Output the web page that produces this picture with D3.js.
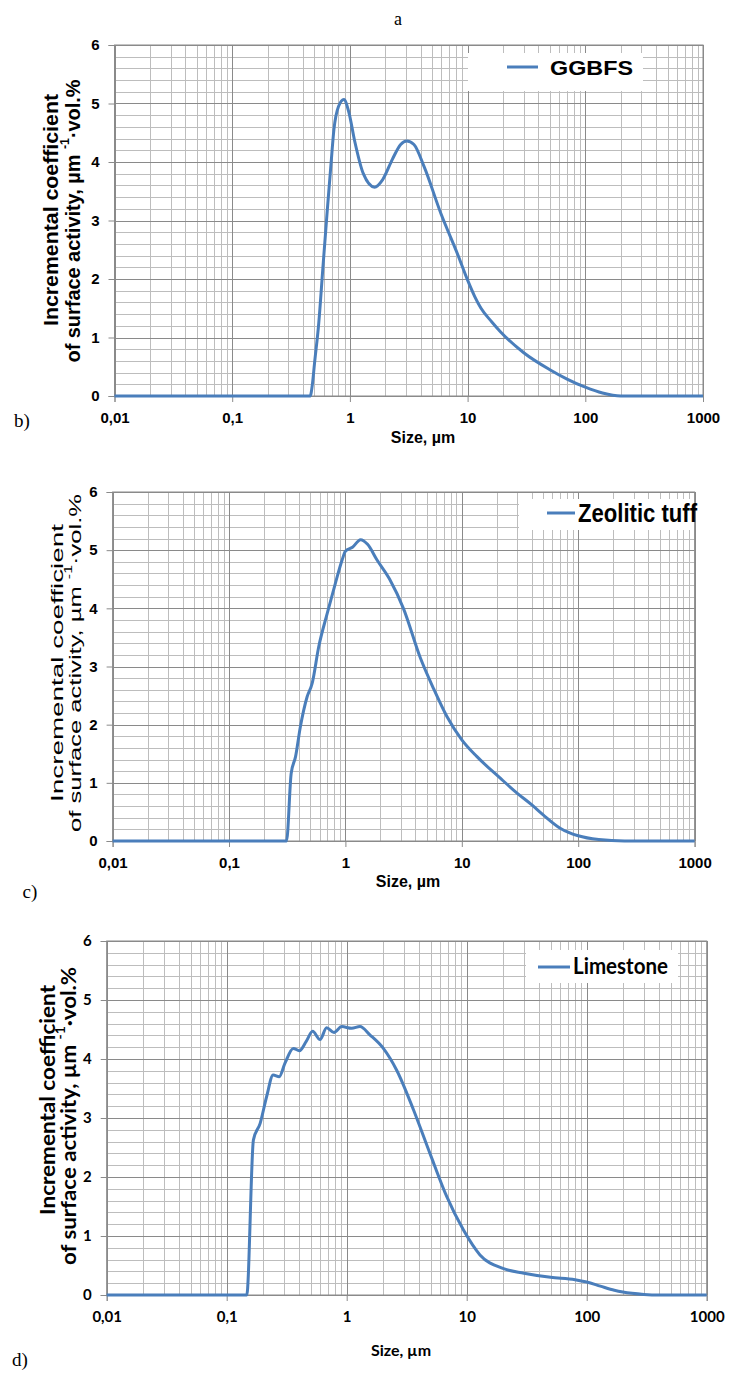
<!DOCTYPE html>
<html><head><meta charset="utf-8">
<script src="https://cdn.jsdelivr.net/npm/d3@7"></script>
<style>body{margin:0;background:#fff}svg{display:block}</style>
</head><body>
<svg id="c" width="730" height="1373"></svg>
<script>
// ---- data ----
const sizeTicks = [0.01, 0.1, 1, 10, 100, 1000];
const sizeTickLabels = ["0,01", "0,1", "1", "10", "100", "1000"];
const valueTicks = [0, 1, 2, 3, 4, 5, 6];
const seriesNames = ["GGBFS", "Zeolitic tuff", "Limestone"];
const panelLetters = ["b)", "c)", "d)"];
const topLetter = "a";
const xTitle = "Size, µm";
const yTitle1 = "Incremental coefficient";
const yTitle2a = "of surface activity, µm ";
const yTitle2sup = "-1";
const yTitle2b = "·vol.%";

const ggbfsSize  = [0.01, 0.46, 0.48, 0.5, 0.544, 0.59, 0.641, 0.69, 0.731, 0.8, 0.889, 0.98, 1.1, 1.3, 1.62, 1.9, 2.3, 2.7, 3.04, 3.5, 4.27, 5.93, 8.24, 10, 11.5, 13, 16, 19, 30, 50, 70, 100, 140, 200, 1000];
const ggbfsValue = [0, 0, 0.2, 0.55, 1.25, 2.2, 3.15, 3.95, 4.55, 4.95, 5.07, 4.85, 4.35, 3.8, 3.57, 3.7, 4.05, 4.3, 4.36, 4.3, 3.92, 3.12, 2.42, 1.98, 1.7, 1.5, 1.27, 1.1, 0.74, 0.45, 0.29, 0.15, 0.05, 0, 0];

const zeoliteSize  = [0.01, 0.305, 0.312, 0.342, 0.373, 0.41, 0.469, 0.518, 0.59, 0.697, 0.82, 0.937, 1.0, 1.15, 1.35, 1.55, 1.87, 2.4, 3.15, 4.4, 5.72, 7.45, 10, 13.5, 21.4, 30, 40, 50, 70, 100, 150, 250, 1000];
const zeoliteValue = [0, 0, 0, 1.16, 1.45, 1.96, 2.48, 2.71, 3.34, 3.91, 4.43, 4.83, 4.98, 5.05, 5.18, 5.1, 4.83, 4.5, 4.0, 3.15, 2.62, 2.14, 1.74, 1.45, 1.08, 0.82, 0.62, 0.45, 0.22, 0.09, 0.025, 0, 0];

const limestoneSize  = [0.01, 0.145, 0.147, 0.167, 0.19, 0.215, 0.244, 0.274, 0.306, 0.359, 0.403, 0.46, 0.52, 0.6, 0.68, 0.784, 0.91, 1.1, 1.29, 1.56, 2.02, 2.61, 3.6, 4.94, 6.81, 9.4, 12.9, 20, 30, 50, 80, 100, 130, 170, 200, 300, 400, 1000];
const limestoneValue = [0, 0, 0, 2.63, 2.91, 3.36, 3.73, 3.70, 3.93, 4.18, 4.14, 4.3, 4.47, 4.33, 4.53, 4.45, 4.55, 4.52, 4.55, 4.41, 4.18, 3.81, 3.14, 2.40, 1.67, 1.10, 0.68, 0.45, 0.37, 0.3, 0.26, 0.22, 0.15, 0.08, 0.05, 0.01, 0, 0];

// ---- layout (positions / styles) ----
const seriesData = [
  [ggbfsSize, ggbfsValue],
  [zeoliteSize, zeoliteValue],
  [limestoneSize, limestoneValue]
];
const layout = [
  { x0: 114.5, x1: 703, y0: 45, y1: 396, font: "'Liberation Sans', Arial, sans-serif", tickFs: 15,
    yT: { x1: 50, x2: 72, cy1: 210, cy2: 221, l1: 232, l2: 283, fs: 20.5, w: "bold" },
    letter: { x: 22, y: 427 }, xTitle: { x: 423, y: 443 },
    leg: { bx: 468, by: 53, bw: 175, bh: 38, lx1: 507, lx2: 538, ly: 67, tx: 550, ty: 75, fs: 21, tl: 83, font: "'Liberation Sans', Arial, sans-serif" } },
  { x0: 112.6, x1: 694.6, y0: 492, y1: 841, font: "'Liberation Sans', Arial, sans-serif", tickFs: 15,
    yT: { x1: 57, x2: 75, cy1: 663, cy2: 663, l1: 278, l2: 338, fs: 17, w: "normal" },
    letter: { x: 30, y: 898 }, xTitle: { x: 408, y: 887 },
    leg: { bx: 519, by: 499, bw: 176, bh: 31, lx1: 547, lx2: 575, ly: 513, tx: 578, ty: 522, fs: 25, tl: 119, font: "'Liberation Sans Narrow', 'Arial Narrow', 'Liberation Sans', Arial, sans-serif" } },
  { x0: 106.7, x1: 706.7, y0: 941, y1: 1295, font: "Lato, 'Open Sans', sans-serif", tickFs: 15,
    yT: { x1: 47, x2: 68, cy1: 1100, cy2: 1116, l1: 230, l2: 298, fs: 20.5, w: "bold" },
    letter: { x: 20, y: 1366 }, xTitle: { x: 401, y: 1356 },
    leg: { bx: 526, by: 950, bw: 152, bh: 33, lx1: 538, lx2: 570, ly: 967, tx: 573, ty: 974, fs: 22, tl: 95, font: "Lato, 'Open Sans', sans-serif" } }
];

const svg = d3.select("#c");
svg.append("rect").attr("width", 730).attr("height", 1373).attr("fill", "#fff");

svg.append("text").attr("x", 398).attr("y", 25).attr("text-anchor", "middle")
  .attr("font-family", "'Liberation Serif', 'Times New Roman', serif").attr("font-size", 18)
  .text(topLetter);

const lineColor = "#4a7ebb";
const minorColor = "#bdbdbd";
const majorColor = "#8a8a8a";

layout.forEach((L, i) => {
  const g = svg.append("g");
  const x = d3.scaleLog().domain([sizeTicks[0], sizeTicks[sizeTicks.length - 1]]).range([L.x0, L.x1]);
  const y = d3.scaleLinear().domain([0, 6]).range([L.y1, L.y0]);

  // minor vertical grid
  const minorX = [];
  sizeTicks.slice(0, -1).forEach(d => { for (let k = 2; k <= 9; k++) minorX.push(d * k); });
  g.append("g").selectAll("line").data(minorX).join("line")
    .attr("x1", d => Math.round(x(d)) + 0.5).attr("x2", d => Math.round(x(d)) + 0.5)
    .attr("y1", L.y0).attr("y2", L.y1).attr("stroke", minorColor).attr("stroke-width", 1);
  // minor horizontal grid
  const minorY = d3.range(0, 30).map(k => k * 0.2).filter(v => Math.abs(v - Math.round(v)) > 1e-6);
  g.append("g").selectAll("line").data(minorY).join("line")
    .attr("x1", L.x0).attr("x2", L.x1)
    .attr("y1", d => Math.round(y(d)) + 0.5).attr("y2", d => Math.round(y(d)) + 0.5)
    .attr("stroke", minorColor).attr("stroke-width", 1);
  // major grid
  g.append("g").selectAll("line").data(sizeTicks).join("line")
    .attr("x1", d => Math.round(x(d)) + 0.5).attr("x2", d => Math.round(x(d)) + 0.5)
    .attr("y1", L.y0).attr("y2", L.y1).attr("stroke", majorColor).attr("stroke-width", 1);
  g.append("g").selectAll("line").data(valueTicks).join("line")
    .attr("x1", L.x0).attr("x2", L.x1)
    .attr("y1", d => Math.round(y(d)) + 0.5).attr("y2", d => Math.round(y(d)) + 0.5)
    .attr("stroke", majorColor).attr("stroke-width", 1);

  // legend box (white, covers grid)
  const lg = L.leg;
  g.append("rect").attr("x", lg.bx).attr("y", lg.by).attr("width", lg.bw).attr("height", lg.bh).attr("fill", "#fff");

  // frame
  g.append("rect").attr("x", L.x0).attr("y", L.y0).attr("width", L.x1 - L.x0).attr("height", L.y1 - L.y0)
    .attr("fill", "none").attr("stroke", majorColor).attr("stroke-width", 1);

  // axes
  const xa = g.append("g").attr("transform", `translate(0,${L.y1})`)
    .call(d3.axisBottom(x).tickValues(sizeTicks).tickFormat((d, j) => sizeTickLabels[j]).tickSize(6).tickPadding(10));
  const ya = g.append("g").attr("transform", `translate(${L.x0},0)`)
    .call(d3.axisLeft(y).tickValues(valueTicks).tickFormat(d => String(d)).tickSize(6).tickPadding(9));
  [xa, ya].forEach(a => {
    a.select(".domain").attr("stroke", majorColor);
    a.selectAll(".tick line").attr("stroke", majorColor);
    a.selectAll("text").attr("font-family", L.font).attr("font-weight", "bold").attr("font-size", L.tickFs).attr("fill", "#000");
  });

  // series line
  const [sz, vals] = seriesData[i];
  const pts = sz.map((s, j) => ({ s, v: vals[j] }));
  g.append("path").datum(pts)
    .attr("d", d3.line().x(d => x(d.s)).y(d => y(d.v)).curve(d3.curveMonotoneX))
    .attr("fill", "none").attr("stroke", lineColor).attr("stroke-width", 3).attr("stroke-linejoin", "round");

  // legend
  g.append("line").attr("x1", lg.lx1).attr("x2", lg.lx2).attr("y1", lg.ly).attr("y2", lg.ly)
    .attr("stroke", lineColor).attr("stroke-width", 3);
  g.append("text").attr("x", lg.tx).attr("y", lg.ty).attr("font-family", lg.font).attr("font-weight", "bold")
    .attr("font-size", lg.fs).attr("textLength", lg.tl).attr("lengthAdjust", "spacingAndGlyphs").text(seriesNames[i]);

  // y title
  const yt = L.yT;
  g.append("text").attr("transform", `translate(${yt.x1},${yt.cy1}) rotate(-90)`).attr("text-anchor", "middle")
    .attr("dominant-baseline", "central")
    .attr("font-family", L.font).attr("font-weight", yt.w).attr("font-size", yt.fs)
    .attr("textLength", yt.l1).attr("lengthAdjust", "spacingAndGlyphs").text(yTitle1);
  const t2 = g.append("text").attr("transform", `translate(${yt.x2},${yt.cy2}) rotate(-90)`).attr("text-anchor", "middle")
    .attr("dominant-baseline", "central")
    .attr("font-family", L.font).attr("font-weight", yt.w).attr("font-size", yt.fs)
    .attr("textLength", yt.l2).attr("lengthAdjust", "spacingAndGlyphs");
  t2.append("tspan").text(yTitle2a);
  t2.append("tspan").attr("font-size", yt.fs * 0.62).attr("dy", -yt.fs * 0.4).text(yTitle2sup);
  t2.append("tspan").attr("dy", yt.fs * 0.4).text(yTitle2b);

  // x title
  g.append("text").attr("x", L.xTitle.x).attr("y", L.xTitle.y).attr("text-anchor", "middle")
    .attr("font-family", L.font).attr("font-weight", "bold").attr("font-size", 16).text(xTitle);

  // panel letter
  g.append("text").attr("x", L.letter.x).attr("y", L.letter.y).attr("text-anchor", "middle")
    .attr("font-family", "'Liberation Serif', 'Times New Roman', serif").attr("font-size", 19).text(panelLetters[i]);
});
</script>
</body></html>
